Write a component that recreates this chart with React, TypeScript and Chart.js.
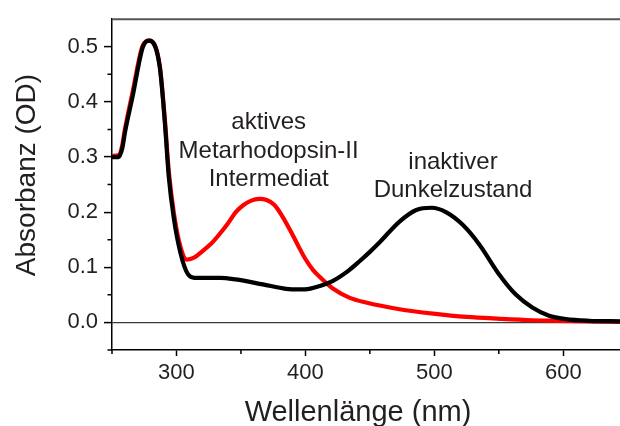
import React, { useEffect, useRef } from "react";
import { Chart, registerables } from "chart.js";

Chart.register(...registerables);

// Dark state (rhodopsin) absorbance spectrum
const darkWavelengths = [
  250, 255, 258, 260, 266, 274, 279, 287, 291, 294, 298, 303, 309, 314, 322, 334, 346, 367, 385, 395,
  403, 411, 421, 434, 442, 450, 457, 473, 486, 498, 509, 522, 535, 550, 563, 576, 589, 602, 620, 644,
];
const darkAbsorbance = [
  0.300, 0.300, 0.316, 0.344, 0.410, 0.500, 0.511, 0.464, 0.362, 0.265, 0.188, 0.127, 0.087, 0.081, 0.081, 0.081, 0.078, 0.069, 0.061, 0.060,
  0.061, 0.066, 0.075, 0.095, 0.111, 0.128, 0.144, 0.183, 0.204, 0.208, 0.200, 0.177, 0.141, 0.088, 0.051, 0.027, 0.012, 0.006, 0.003, 0.002,
];

// Light-activated Meta-II intermediate spectrum
const metaWavelengths = [
  250, 255, 258, 260, 266, 274, 279, 287, 291, 294, 298, 303, 308, 314, 320, 327, 333, 340, 346, 352,
  358, 364, 370, 376, 382, 388, 394, 400, 406, 411, 416, 421, 434, 447, 473, 499, 525, 551, 576, 597,
  620, 644,
];
const metaAbsorbance = [
  0.302, 0.303, 0.322, 0.350, 0.418, 0.503, 0.511, 0.466, 0.368, 0.275, 0.198, 0.138, 0.114, 0.118, 0.129, 0.143, 0.159, 0.180, 0.200, 0.213,
  0.221, 0.224, 0.222, 0.213, 0.193, 0.168, 0.141, 0.115, 0.095, 0.083, 0.072, 0.062, 0.045, 0.036, 0.024, 0.016, 0.010, 0.0066, 0.004, 0.003,
  0.002, 0.001,
];

const xTickValues = [300, 400, 500, 600];
const xMinorTickValues = [250, 350, 450, 550];
const yTickValues = [0, 0.1, 0.2, 0.3, 0.4, 0.5];
const yMinorTickValues = [-0.05, 0.05, 0.15, 0.25, 0.35, 0.45];

const metaLabelLines = ["aktives", "Metarhodopsin-II", "Intermediat"];
const darkLabelLines = ["inaktiver", "Dunkelzustand"];
const xTitle = "Wellenlänge (nm)";
const yTitle = "Absorbanz (OD)";

const FONT = '"Liberation Sans", Arial, Helvetica, sans-serif';
const TEXT = "#231f20";

const toPoints = (xs: number[], ys: number[]) => xs.map((x, i) => ({ x, y: ys[i] }));

// Frame line, minor ticks, curve labels and axis titles
const decorations = {
  id: "decorations",
  afterDraw(chart: any) {
    const { ctx, chartArea } = chart;
    const xs = chart.scales.x;
    const ys = chart.scales.y;
    ctx.save();

    ctx.strokeStyle = "#555";
    ctx.lineWidth = 2;
    ctx.beginPath();
    ctx.moveTo(chartArea.left, chartArea.top);
    ctx.lineTo(chartArea.right, chartArea.top);
    ctx.stroke();

    ctx.strokeStyle = "#000";
    ctx.lineWidth = 1.5;
    ctx.beginPath();
    for (const v of yMinorTickValues) {
      const py = ys.getPixelForValue(v);
      ctx.moveTo(chartArea.left - 4.5, py);
      ctx.lineTo(chartArea.left, py);
    }
    for (const v of xMinorTickValues) {
      const px = xs.getPixelForValue(v);
      ctx.moveTo(px, chartArea.bottom);
      ctx.lineTo(px, chartArea.bottom + 4);
    }
    ctx.stroke();

    ctx.fillStyle = TEXT;
    ctx.textAlign = "center";
    ctx.textBaseline = "alphabetic";
    ctx.font = `24px ${FONT}`;
    const lineGap = 28.3;
    const metaX = xs.getPixelForValue(371.5);
    const metaY = ys.getPixelForValue(0.35);
    metaLabelLines.forEach((t, i) => ctx.fillText(t, metaX, metaY + i * lineGap));
    const darkX = xs.getPixelForValue(514.5);
    const darkY = ys.getPixelForValue(0.279);
    darkLabelLines.forEach((t, i) => ctx.fillText(t, darkX, darkY + i * lineGap));

    ctx.font = `29px ${FONT}`;
    ctx.fillText(xTitle, 358, 420.5);

    ctx.font = `28px ${FONT}`;
    ctx.translate(34.5, 175);
    ctx.rotate(-Math.PI / 2);
    ctx.fillText(yTitle, 0, 0);

    ctx.restore();
  },
};

const lineStyle = {
  borderWidth: 4.2,
  pointRadius: 0,
  cubicInterpolationMode: "monotone",
  borderJoinStyle: "round",
  borderCapStyle: "round",
};

export default function App() {
  const ref = useRef<HTMLCanvasElement>(null);

  useEffect(() => {
    const chart = new Chart(ref.current as HTMLCanvasElement, {
      type: "line",
      data: {
        datasets: [
          {
            label: "Dunkelzustand",
            data: toPoints(darkWavelengths, darkAbsorbance),
            borderColor: "#000000",
            ...lineStyle,
            order: 0,
          },
          {
            label: "Metarhodopsin-II",
            data: toPoints(metaWavelengths, metaAbsorbance),
            borderColor: "#ff0000",
            ...lineStyle,
            order: 1,
          },
        ],
      },
      options: {
        responsive: false,
        animation: false,
        devicePixelRatio: 1,
        layout: { padding: { top: 16, left: 0, right: 0, bottom: 0 } },
        plugins: { legend: { display: false }, tooltip: { enabled: false } },
        scales: {
          x: {
            type: "linear",
            min: 250,
            max: 644,
            afterBuildTicks: (s: any) => {
              s.ticks = xTickValues.map((value) => ({ value }));
            },
            afterFit: (s: any) => {
              s.height = 76;
            },
            grid: { drawOnChartArea: false, drawTicks: true, tickLength: 6, tickColor: "#000", tickWidth: 1.5 },
            border: { display: true, color: "#000", width: 1.5 },
            ticks: {
              padding: 4,
              color: TEXT,
              font: { family: FONT, size: 22 },
              maxRotation: 0,
              autoSkip: false,
              callback: (v: any) => String(v),
            },
            title: { display: false },
          },
          y: {
            type: "linear",
            min: -0.05,
            max: 0.55,
            afterBuildTicks: (s: any) => {
              s.ticks = yTickValues.map((value) => ({ value }));
            },
            afterFit: (s: any) => {
              s.width = 112;
            },
            grid: {
              drawOnChartArea: true,
              color: (c: any) => (c.tick && Math.abs(c.tick.value) < 1e-9 ? "#3a3a3a" : "rgba(0,0,0,0)"),
              lineWidth: 1.2,
              drawTicks: true,
              tickLength: 8,
              tickColor: "#000",
              tickWidth: 1.5,
            },
            border: { display: true, color: "#000", width: 1.5 },
            ticks: {
              padding: 6,
              color: TEXT,
              font: { family: FONT, size: 22 },
              autoSkip: false,
              callback: (v: any) => Number(v).toFixed(1),
            },
            title: { display: false },
          },
        },
      },
      plugins: [decorations],
    } as any);
    return () => chart.destroy();
  }, []);

  return (
    <div style={{ position: "absolute", left: 0, top: 0, width: 620, height: 426, background: "#fff" }}>
      <canvas ref={ref} width={620} height={426} style={{ display: "block" }} />
    </div>
  );
}
